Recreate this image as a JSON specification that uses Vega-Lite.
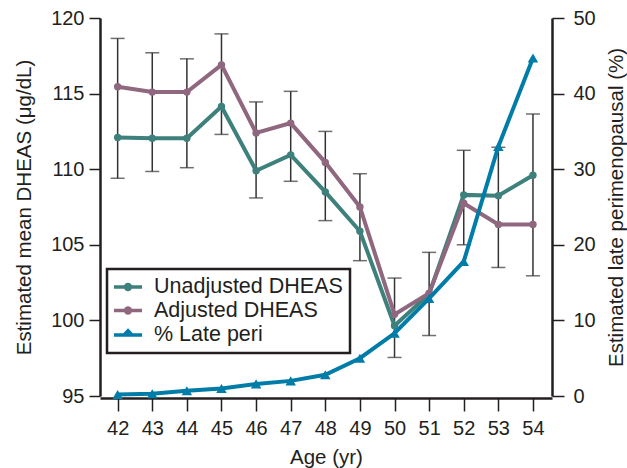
{
  "$schema": "https://vega.github.io/schema/vega-lite/v6.json",
  "width": 452,
  "height": 378,
  "autosize": "none",
  "padding": {"left": 100, "top": 18, "right": 75, "bottom": 72},
  "background": "white",
  "view": {"stroke": null},
  "config": {
    "font": "Liberation Sans",
    "axis": {
      "grid": false,
      "domainColor": "#231f20",
      "domainWidth": 2.5,
      "tickColor": "#231f20",
      "tickWidth": 1.5,
      "labelFont": "Liberation Sans",
      "labelFontSize": 20,
      "labelColor": "#231f20",
      "labelOverlap": false,
      "titleFont": "Liberation Sans",
      "titleFontSize": 20.5,
      "titleFontWeight": "normal",
      "titleColor": "#231f20"
    },
    "axisX": {"tickSize": 13, "labelPadding": 7, "titlePadding": 9, "offset": 2},
    "axisLeft": {"tickSize": 11, "labelPadding": 5, "titlePadding": 16},
    "axisRight": {"tickSize": 12, "labelPadding": 9, "titlePadding": 11, "titleAngle": 270, "titleBaseline": "top"},
    "legend": {
      "orient": "none",
      "legendX": 7,
      "legendY": 251,
      "strokeColor": "#231f20",
      "strokeWidth": 2.5,
      "padding": 7,
      "symbolSize": 324,
      "symbolStrokeWidth": 3.5,
      "symbolOpacity": 1,
      "symbolOffset": 3,
      "labelOffset": 15,
      "rowPadding": 1.5,
      "labelFont": "Liberation Sans",
      "labelFontSize": 21.5,
      "labelColor": "#231f20",
      "labelLimit": 400
    }
  },
  "datasets": {
    "dheas": [
      {"age": 42, "series": "Unadjusted DHEAS", "value": 112.1},
      {"age": 43, "series": "Unadjusted DHEAS", "value": 112.05},
      {"age": 44, "series": "Unadjusted DHEAS", "value": 112.05},
      {"age": 45, "series": "Unadjusted DHEAS", "value": 114.15},
      {"age": 46, "series": "Unadjusted DHEAS", "value": 109.9},
      {"age": 47, "series": "Unadjusted DHEAS", "value": 110.95},
      {"age": 48, "series": "Unadjusted DHEAS", "value": 108.5},
      {"age": 49, "series": "Unadjusted DHEAS", "value": 105.9},
      {"age": 50, "series": "Unadjusted DHEAS", "value": 99.65},
      {"age": 51, "series": "Unadjusted DHEAS", "value": 101.75},
      {"age": 52, "series": "Unadjusted DHEAS", "value": 108.3},
      {"age": 53, "series": "Unadjusted DHEAS", "value": 108.25},
      {"age": 54, "series": "Unadjusted DHEAS", "value": 109.6},
      {"age": 42, "series": "Adjusted DHEAS", "value": 115.45},
      {"age": 43, "series": "Adjusted DHEAS", "value": 115.1},
      {"age": 44, "series": "Adjusted DHEAS", "value": 115.1},
      {"age": 45, "series": "Adjusted DHEAS", "value": 116.9},
      {"age": 46, "series": "Adjusted DHEAS", "value": 112.4},
      {"age": 47, "series": "Adjusted DHEAS", "value": 113.05},
      {"age": 48, "series": "Adjusted DHEAS", "value": 110.45},
      {"age": 49, "series": "Adjusted DHEAS", "value": 107.5},
      {"age": 50, "series": "Adjusted DHEAS", "value": 100.4},
      {"age": 51, "series": "Adjusted DHEAS", "value": 101.8},
      {"age": 52, "series": "Adjusted DHEAS", "value": 107.75},
      {"age": 53, "series": "Adjusted DHEAS", "value": 106.35},
      {"age": 54, "series": "Adjusted DHEAS", "value": 106.35}
    ],
    "ci": [
      {"age": 42, "lo": 109.4, "hi": 118.65},
      {"age": 43, "lo": 109.85, "hi": 117.7},
      {"age": 44, "lo": 110.1, "hi": 117.3},
      {"age": 45, "lo": 112.3, "hi": 118.95},
      {"age": 46, "lo": 108.1, "hi": 114.45},
      {"age": 47, "lo": 109.2, "hi": 115.15},
      {"age": 48, "lo": 106.6, "hi": 112.5},
      {"age": 49, "lo": 103.95, "hi": 109.7},
      {"age": 50, "lo": 97.55, "hi": 102.8},
      {"age": 51, "lo": 99.0, "hi": 104.5},
      {"age": 52, "lo": 105.0, "hi": 111.25},
      {"age": 53, "lo": 103.5, "hi": 111.45},
      {"age": 54, "lo": 102.95, "hi": 113.65}
    ],
    "peri": [
      {"age": 42, "pct": 0.2},
      {"age": 43, "pct": 0.3},
      {"age": 44, "pct": 0.7},
      {"age": 45, "pct": 1.0},
      {"age": 46, "pct": 1.6},
      {"age": 47, "pct": 2.0},
      {"age": 48, "pct": 2.8},
      {"age": 49, "pct": 5.0},
      {"age": 50, "pct": 8.3},
      {"age": 51, "pct": 12.9},
      {"age": 52, "pct": 17.8},
      {"age": 53, "pct": 33.0},
      {"age": 54, "pct": 44.7}
    ],
    "series": [
      {"series": "Unadjusted DHEAS"},
      {"series": "Adjusted DHEAS"},
      {"series": "% Late peri"}
    ]
  },
  "layer": [
    {
      "layer": [
        {
          "data": {"name": "ci"},
          "mark": {"type": "rule", "color": "#333333", "strokeWidth": 1.5},
          "encoding": {
            "x": {"field": "age", "type": "quantitative", "scale": {"domain": [41.49, 54.55], "nice": false, "zero": false}, "axis": {"values": [42, 43, 44, 45, 46, 47, 48, 49, 50, 51, 52, 53, 54], "title": "Age (yr)", "format": "d"}},
            "y": {"field": "lo", "type": "quantitative", "scale": {"domain": [95, 120], "nice": false, "zero": false}, "axis": {"values": [95, 100, 105, 110, 115, 120], "title": "Estimated mean DHEAS (μg/dL)"}},
            "y2": {"field": "hi"}
          }
        },
        {
          "data": {"name": "ci"},
          "mark": {"type": "tick", "orient": "horizontal", "color": "#333333", "thickness": 1.5, "size": 14},
          "encoding": {
            "x": {"field": "age", "type": "quantitative", "axis": {"values": [42, 43, 44, 45, 46, 47, 48, 49, 50, 51, 52, 53, 54], "title": "Age (yr)", "format": "d"}},
            "y": {"field": "lo", "type": "quantitative", "axis": {"values": [95, 100, 105, 110, 115, 120], "title": "Estimated mean DHEAS (μg/dL)"}}
          }
        },
        {
          "data": {"name": "ci"},
          "mark": {"type": "tick", "orient": "horizontal", "color": "#333333", "thickness": 1.5, "size": 14},
          "encoding": {
            "x": {"field": "age", "type": "quantitative", "axis": {"values": [42, 43, 44, 45, 46, 47, 48, 49, 50, 51, 52, 53, 54], "title": "Age (yr)", "format": "d"}},
            "y": {"field": "hi", "type": "quantitative", "axis": {"values": [95, 100, 105, 110, 115, 120], "title": "Estimated mean DHEAS (μg/dL)"}}
          }
        },
        {
          "data": {"name": "dheas"},
          "transform": [{"filter": "datum.series === 'Unadjusted DHEAS'"}],
          "mark": {"type": "line", "color": "#3d807c", "strokeWidth": 4, "point": {"filled": true, "size": 55, "color": "#3d807c"}},
          "encoding": {
            "x": {"field": "age", "type": "quantitative", "axis": {"values": [42, 43, 44, 45, 46, 47, 48, 49, 50, 51, 52, 53, 54], "title": "Age (yr)", "format": "d"}},
            "y": {"field": "value", "type": "quantitative", "axis": {"values": [95, 100, 105, 110, 115, 120], "title": "Estimated mean DHEAS (μg/dL)"}}
          }
        },
        {
          "data": {"name": "dheas"},
          "transform": [{"filter": "datum.series === 'Adjusted DHEAS'"}],
          "mark": {"type": "line", "color": "#8f677e", "strokeWidth": 4, "point": {"filled": true, "size": 55, "color": "#8f677e"}},
          "encoding": {
            "x": {"field": "age", "type": "quantitative", "axis": {"values": [42, 43, 44, 45, 46, 47, 48, 49, 50, 51, 52, 53, 54], "title": "Age (yr)", "format": "d"}},
            "y": {"field": "value", "type": "quantitative", "axis": {"values": [95, 100, 105, 110, 115, 120], "title": "Estimated mean DHEAS (μg/dL)"}}
          }
        }
      ]
    },
    {
      "data": {"name": "peri"},
      "mark": {"type": "line", "color": "#007ca8", "strokeWidth": 4, "point": {"filled": true, "shape": "triangle-up", "size": 110, "color": "#007ca8"}},
      "encoding": {
        "x": {"field": "age", "type": "quantitative", "axis": {"values": [42, 43, 44, 45, 46, 47, 48, 49, 50, 51, 52, 53, 54], "title": "Age (yr)", "format": "d"}},
        "y": {"field": "pct", "type": "quantitative", "scale": {"domain": [0, 50], "nice": false}, "axis": {"values": [0, 10, 20, 30, 40, 50], "title": "Estimated late perimenopausal (%)"}}
      }
    },
    {
      "data": {"name": "series"},
      "mark": {"type": "point", "filled": false, "size": 0, "strokeWidth": 3.5},
      "encoding": {
        "color": {
          "field": "series",
          "type": "nominal",
          "scale": {"domain": ["Unadjusted DHEAS", "Adjusted DHEAS", "% Late peri"], "range": ["#3d807c", "#8f677e", "#007ca8"]},
          "legend": {"title": null}
        },
        "shape": {
          "field": "series",
          "type": "nominal",
          "scale": {
            "domain": ["Unadjusted DHEAS", "Adjusted DHEAS", "% Late peri"],
            "range": [
              "M-1.56,0H1.56M-0.27,0a0.27,0.27 0 1,0 0.54,0a0.27,0.27 0 1,0 -0.54,0M-0.09,0a0.09,0.09 0 1,0 0.18,0a0.09,0.09 0 1,0 -0.18,0",
              "M-1.56,0H1.56M-0.27,0a0.27,0.27 0 1,0 0.54,0a0.27,0.27 0 1,0 -0.54,0M-0.09,0a0.09,0.09 0 1,0 0.18,0a0.09,0.09 0 1,0 -0.18,0",
              "M-1.56,0H1.56M0,-0.47L0.37,-0.07L-0.37,-0.07Z"
            ]
          },
          "legend": {"title": null}
        }
      }
    }
  ],
  "resolve": {"scale": {"y": "independent"}}
}
